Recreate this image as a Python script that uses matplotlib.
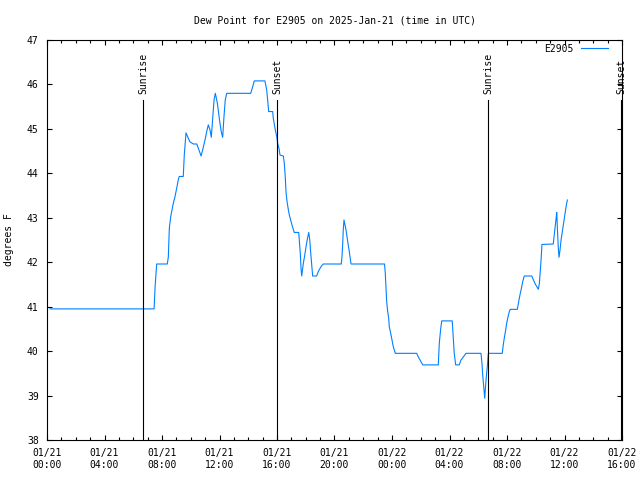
import matplotlib
matplotlib.use('Agg')
import matplotlib.pyplot as plt
import matplotlib.dates as mdates
import numpy as np

# Dew point readings, hours since 2025-01-21 00:00 UTC
hours = [0.21, 7.45, 7.52, 7.63, 8.37, 8.44, 8.51, 8.61, 8.79, 8.90, 9.02, 9.13, 9.20, 9.48,
         9.55, 9.67, 9.83, 9.94, 10.18, 10.42, 10.53, 10.72, 10.83, 10.99, 11.11, 11.22,
         11.34, 11.43, 11.53, 11.62, 11.71, 11.85, 11.94, 12.03, 12.12, 12.22, 12.31, 12.40,
         12.50, 14.17, 14.31, 14.42, 15.16, 15.28, 15.35, 15.42, 15.70, 15.74, 15.88, 15.98,
         16.05, 16.14, 16.21, 16.44, 16.51, 16.58, 16.63, 16.70, 16.79, 16.86, 16.95, 17.04,
         17.13, 17.20, 17.51, 17.55, 17.62, 17.67, 17.72, 17.76, 17.83, 17.93, 18.02, 18.14,
         18.21, 18.28, 18.32, 18.39, 18.46, 18.48, 18.76, 18.87, 18.99, 19.11, 19.22, 20.47,
         20.52, 20.57, 20.61, 20.66, 20.73, 20.80, 20.87, 20.94, 21.01, 21.08, 21.15, 23.48,
         23.53, 23.58, 23.63, 23.70, 23.77, 23.81, 23.91, 24.00, 24.09, 24.23, 25.72, 25.83,
         25.95, 26.14, 27.22, 27.29, 27.39, 27.46, 28.19, 28.26, 28.33, 28.43, 28.68, 28.80,
         28.96, 29.15, 30.19, 30.26, 30.31, 30.38, 30.45, 30.49, 30.56, 30.63, 30.70, 31.67,
         31.74, 31.81, 31.91, 31.98, 32.05, 32.16, 32.23, 32.72, 32.81, 32.90, 33.00, 33.09,
         33.20, 33.72, 33.83, 33.95, 34.07, 34.18, 34.25, 34.30, 34.37, 34.43, 35.22, 35.27,
         35.34, 35.41, 35.46, 35.50, 35.57, 35.62, 35.69, 35.76, 35.85, 35.92, 35.99, 36.06,
         36.13, 36.20]
dewpoint = [40.95, 40.95, 41.45, 41.96, 41.96, 42.12, 42.77, 43.03, 43.33, 43.47, 43.66, 43.85,
            43.93, 43.93, 44.41, 44.91, 44.79, 44.71, 44.66, 44.66, 44.56, 44.39, 44.53, 44.75,
            44.94, 45.09, 44.98, 44.81, 45.27, 45.65, 45.80, 45.58, 45.35, 45.13, 44.94, 44.81,
            45.27, 45.65, 45.80, 45.80, 45.95, 46.08, 46.08, 45.88, 45.65, 45.39, 45.39, 45.24,
            44.98, 44.83, 44.67, 44.56, 44.41, 44.39, 44.22, 43.89, 43.57, 43.36, 43.18, 43.06,
            42.95, 42.84, 42.74, 42.67, 42.67, 42.50, 42.20, 41.86, 41.69, 41.79, 41.97, 42.16,
            42.35, 42.57, 42.67, 42.50, 42.31, 42.05, 41.79, 41.69, 41.69, 41.79, 41.86, 41.92,
            41.96, 41.96, 42.12, 42.42, 42.73, 42.95, 42.84, 42.73, 42.57, 42.42, 42.28, 42.12,
            41.96, 41.96, 41.77, 41.45, 41.11, 40.89, 40.74, 40.55, 40.40, 40.25, 40.10, 39.95,
            39.95, 39.87, 39.80, 39.69, 39.69, 40.18, 40.51, 40.68, 40.68, 40.33, 39.95, 39.69,
            39.69, 39.80, 39.87, 39.95, 39.95, 39.72, 39.46, 39.20, 38.94, 39.13, 39.42, 39.65,
            39.95, 39.95, 40.14, 40.29, 40.48, 40.63, 40.74, 40.89, 40.94, 40.94, 41.11, 41.26,
            41.41, 41.56, 41.69, 41.69, 41.61, 41.52, 41.45, 41.39, 41.52, 41.75, 42.05, 42.40,
            42.41, 42.57, 42.76, 42.97, 43.12, 42.80, 42.31, 42.11, 42.28, 42.50, 42.69, 42.84,
            42.99, 43.14, 43.29, 43.40]

sun_hours = [6.70, 16.02, 30.70, 39.95]
sun_labels = ['Sunrise', 'Sunset', 'Sunrise', 'Sunset']

start = np.datetime64('2025-01-21T00:00')
def to_time(h):
    return start + (np.array(h) * 3600).astype('timedelta64[s]')

times = to_time(hours)
sun_times = to_time(sun_hours)

plt.rcParams['font.family'] = ['DejaVu Sans Mono']
plt.rcParams['font.size'] = 7

fig = plt.figure(figsize=(6.4, 4.8), dpi=100)
ax = fig.add_axes([47 / 640, 40 / 480, 575 / 640, 400 / 480])

ax.plot(times, dewpoint, color='#0080ff', linewidth=0.8, label='E2905')

# sunrise / sunset markers
for t, lab in zip(sun_times, sun_labels):
    ax.plot([t, t], [38, 45.65], color='black', linewidth=0.8)
    ax.text(t, 45.78, lab, rotation=90, ha='center', va='bottom', fontsize=7)

ax.set_xlim(to_time(0), to_time(40))
ax.set_ylim(38, 47)
ax.set_yticks(range(38, 48))
ax.xaxis.set_major_locator(mdates.HourLocator(byhour=range(0, 24, 4)))
ax.xaxis.set_minor_locator(mdates.HourLocator())
ax.xaxis.set_major_formatter(mdates.DateFormatter('%m/%d\n%H:%M'))
ax.tick_params(which='both', direction='in', top=True, right=True, width=0.8)
ax.tick_params(which='major', length=3.5, pad=6)
ax.tick_params(which='minor', length=2)
for s in ax.spines.values():
    s.set_linewidth(0.8)

ax.set_title('Dew Point for E2905 on 2025-Jan-21 (time in UTC)', fontsize=7, pad=12)
ax.set_ylabel('degrees F', fontsize=7, labelpad=9)
ax.legend(loc='upper right', bbox_to_anchor=(1 - 7 / 575, 1 + 3 / 400), frameon=False,
          markerfirst=False, handlelength=2.8, borderaxespad=0.3, fontsize=7)

fig.savefig('out.png', dpi=100)
